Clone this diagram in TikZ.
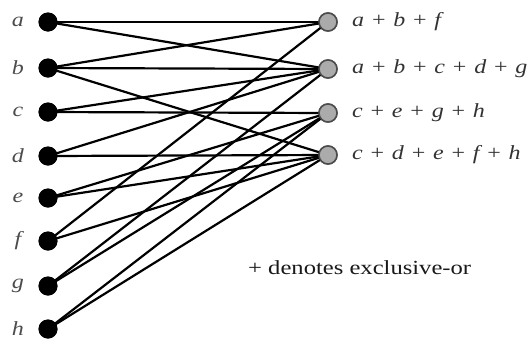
\documentclass[tikz,border=0pt]{standalone}
\usepackage{fontspec}
\setmainfont{Liberation Serif}
\newcommand{\xo}{\hspace{6.5pt}\upshape+\hspace{6.5pt}\itshape}
\begin{document}
\begin{tikzpicture}[x=1pt,y=-1pt,
  lnode/.style={circle,fill=black,inner sep=0pt,minimum size=19pt},
  rnode/.style={circle,fill=black!33,draw=black!70,line width=1.5pt,inner sep=0pt,minimum size=18pt},
  lbl/.style={font=\fontsize{20}{22}\selectfont\itshape,text=black!70,inner sep=0pt},
  rlbl/.style={font=\fontsize{20}{22}\selectfont\itshape,text=black!80,inner sep=0pt,anchor=west},
  edge/.style={line width=2.2pt,black}]
\useasboundingbox (0,0) rectangle (530,341);
\foreach \n/\y in {a/22,b/68,c/112,d/156,e/198,f/241,g/286,h/329}{
  \node[lnode] (\n) at (48,\y) {};
  \node[lbl] (l\n) at (18,\y) {\scalebox{1.2}[1]{\n}};
}
\node[rnode] (r1) at (328,22) {};
\node[rnode] (r2) at (328,69) {};
\node[rnode] (r3) at (328,113) {};
\node[rnode] (r4) at (328,155) {};
\node[rlbl] (t1) at (352,22) {\scalebox{1.2}[1]{a\xo b\xo f}};
\node[rlbl] (t2) at (352,69) {\scalebox{1.2}[1]{a\xo b\xo c\xo d\xo g}};
\node[rlbl] (t3) at (352,113) {\scalebox{1.2}[1]{c\xo e\xo g\xo h}};
\node[rlbl] (t4) at (352,155) {\scalebox{1.2}[1]{c\xo d\xo e\xo f\xo h}};
\node[font=\fontsize{20}{22}\selectfont,text=black!90,inner sep=0pt,anchor=west] (note) at (248,268) {\scalebox{1.23}[1]{+ denotes exclusive-or}};
\foreach \s/\t in {a/r1,a/r2,b/r1,b/r2,b/r4,c/r2,c/r3,d/r2,d/r4,e/r3,e/r4,f/r1,f/r4,g/r2,g/r3,h/r3,h/r4}{
  \draw[edge] (\s.center) -- (\t.center);
}
\foreach \n in {a,b,c,d,e,f,g,h}{\node[lnode] at (\n) {};}
\foreach \n in {r1,r2,r3,r4}{\node[rnode] at (\n) {};}
\end{tikzpicture}
\end{document}
